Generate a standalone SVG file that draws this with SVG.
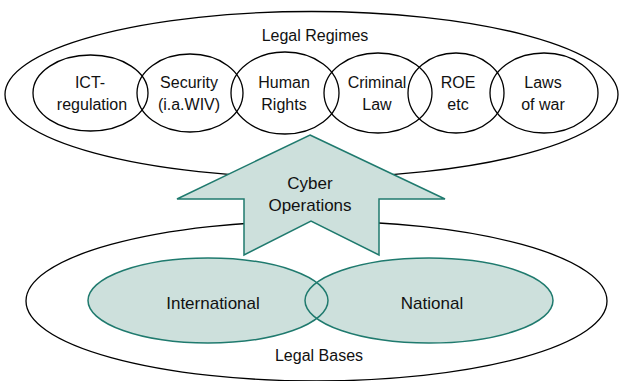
<svg xmlns="http://www.w3.org/2000/svg" width="620" height="381" viewBox="0 0 620 381">
<style>
.out{fill:#fff;stroke:#000;stroke-width:1.3}
.reg{fill:none;stroke:#000;stroke-width:1.3}
.base{fill:#CDE0DC;stroke:none}
.bstroke{fill:none;stroke:#1F7A6E;stroke-width:1.5}
.arrow{fill:#CDE0DC;stroke:#1F7A6E;stroke-width:1.5;stroke-linejoin:miter}
text{font-family:"Liberation Sans",Arial,sans-serif;font-size:16px;fill:#111;text-anchor:middle}
.big{font-size:17px}
</style>
<rect width="620" height="381" fill="#fff"/>
<g id="legal-regimes">
<ellipse class="out" cx="311.5" cy="94.5" rx="306.5" ry="83"/>
<text x="315" y="41">Legal Regimes</text>
</g>
<g id="ict">
<ellipse class="reg" cx="90.5" cy="93" rx="57.5" ry="38"/>
<text x="90" y="88">ICT-</text><text x="92" y="110">regulation</text>
</g>
<g id="security">
<ellipse class="reg" cx="190" cy="93" rx="53" ry="39"/>
<text x="189" y="88">Security</text><text x="189" y="110">(i.a.WIV)</text>
</g>
<g id="human-rights">
<ellipse class="reg" cx="285" cy="93" rx="54" ry="41"/>
<text x="284" y="88">Human</text><text x="284" y="110">Rights</text>
</g>
<g id="criminal-law">
<ellipse class="reg" cx="378" cy="93" rx="54" ry="40"/>
<text x="377" y="88">Criminal</text><text x="377" y="110">Law</text>
</g>
<g id="roe">
<ellipse class="reg" cx="456" cy="93" rx="48" ry="40"/>
<text x="458" y="88">ROE</text><text x="458" y="110">etc</text>
</g>
<g id="laws-of-war">
<ellipse class="reg" cx="544" cy="93" rx="54" ry="40"/>
<text x="543" y="88">Laws</text><text x="543" y="110">of war</text>
</g>
<g id="legal-bases">
<ellipse class="out" cx="316.5" cy="301" rx="290.5" ry="80"/>
<text x="319" y="361">Legal Bases</text>
</g>
<g id="international">
<ellipse id="intl" class="base" cx="208" cy="300.5" rx="120" ry="42.5"/>
</g>
<g id="national">
<ellipse class="base" cx="429" cy="300.5" rx="124" ry="42.5"/>
<ellipse class="bstroke" cx="429" cy="300.5" rx="124" ry="42.5"/>
<text class="big" x="432" y="309">National</text>
</g>
<g id="international-outline">
<ellipse class="bstroke" cx="208" cy="300.5" rx="120" ry="42.5"/>
<text class="big" x="213" y="309">International</text>
</g>
<g id="connectors">
<g id="cyber-operations">
<polygon class="arrow" points="310,135 445,199 379,199 379,255 311,221 244,255 244,199 177,199"/>
<text class="big" x="310" y="189">Cyber</text>
<text class="big" x="310" y="211">Operations</text>
</g>
</g>
</svg>
